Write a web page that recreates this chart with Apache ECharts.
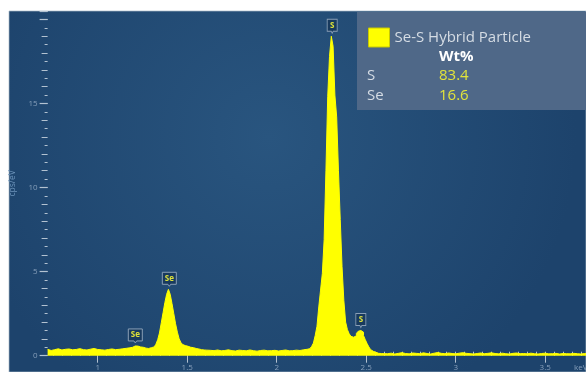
<!DOCTYPE html>
<html>
<head>
<meta charset="utf-8">
<script src="https://cdn.jsdelivr.net/npm/echarts@6/dist/echarts.min.js"></script>
<style>
html,body{margin:0;padding:0;background:#ffffff;}
#chart{width:586px;height:372px;}
</style>
</head>
<body>
<div id="chart"></div>
<script>
// ---- data ----
const seriesName = 'Se-S Hybrid Particle';
// spectrum segments: [start keV, step keV, counts (cps/eV)]
const segAStart = 0.72, segAStep = 0.02;
const segA = [0.38,0.31,0.36,0.41,0.34,0.38,0.40,0.35,0.37,0.42,0.36,0.34,0.39,0.43,0.37,0.35,0.33,0.37,0.40,0.36,0.38,0.41,0.44,0.47];
const segBStart = 1.19, segBStep = 0.01;
const segB = [0.50,0.55,0.58,0.57,0.54,0.52,0.50,0.47,0.45,0.43,0.45,0.48,0.52,0.58,0.68,0.95,1.35,1.95,2.55,3.15,3.65,3.95,3.65,3.10,2.50,1.90,1.40,1.00,0.78,0.66,0.60,0.56,0.53,0.50,0.48,0.45,0.43,0.40,0.38,0.36,0.34,0.33];
const segCStart = 1.62, segCStep = 0.02;
const segC = [0.32,0.30,0.34,0.29,0.31,0.35,0.30,0.28,0.33,0.31,0.29,0.34,0.30,0.27,0.31,0.33,0.29,0.30,0.32,0.28,0.31,0.34,0.29,0.30,0.33,0.31,0.35,0.38,0.42];
const segDStart = 2.19, segDStep = 0.01;
const segD = [0.45,0.55,0.75,1.20,1.75,2.90,3.90,4.90,6.90,11.0,15.4,17.8,19.0,18.4,15.5,14.2,11.0,8.1,5.3,3.3,2.0,1.55,1.30,1.15,1.10,1.18,1.32,1.45,1.50,1.40,1.20,0.95,0.72,0.52,0.36,0.26,0.20,0.16,0.14,0.13,0.12,0.12];
const segEStart = 2.62, segEStep = 0.02;
const segE = [0.12,0.15,0.10,0.14,0.18,0.13,0.11,0.16,0.14,0.12,0.17,0.13,0.10,0.15,0.19,0.14,0.12,0.16,0.13,0.11,0.15,0.18,0.14,0.12,0.10,0.13,0.16,0.12,0.14,0.17,0.13,0.11,0.15,0.12,0.10,0.14,0.16,0.12,0.13,0.11,0.15,0.12,0.10,0.13,0.15,0.11,0.12,0.14,0.10,0.13,0.12,0.11,0.14,0.12,0.10,0.13,0.12];

// peak markers
const peakNames = ['Se','Se','S','S'];
const peakEnergies = [1.21,1.40,2.31,2.47];

// axes
const xMin = 0.72, xMax = 3.728;
const xTickValues = [1,1.5,2,2.5,3,3.5];
const xTickLabels = ['1','1.5','2','2.5','3','3.5'];
const xUnit = 'keV';
const yMin = 0, yMax = 20.5;
const yTickLabels = [0,5,10,15];
const yName = 'cps/eV';

// legend table
const tableHeader = 'Wt%';
const tableElements = ['S','Se'];
const tableWt = ['83.4','16.6'];

// ---- build ----
function seg(start, step, vals){
  return vals.map((v,i)=>[+(start + i*step).toFixed(3), v]);
}
const spectrum = [].concat(
  seg(segAStart,segAStep,segA), seg(segBStart,segBStep,segB),
  seg(segCStart,segCStep,segC), seg(segDStart,segDStep,segD),
  seg(segEStart,segEStep,segE));

function valueAt(e){
  let best = spectrum[0];
  spectrum.forEach(p=>{ if (Math.abs(p[0]-e) < Math.abs(best[0]-e)) best = p; });
  return best[1];
}
const xMinorTicks = [];
for (let k = Math.ceil(xMin/0.05); k*0.05 <= xMax; k++) xMinorTicks.push(+(k*0.05).toFixed(2));

const FONT = 'Open Sans';
const labelColor = '#879fba';
const tickColor = '#b3c2d1';
const tagPath = 'path://M0 0H10V12H6L5 14L4 12H0Z';

const chart = echarts.init(document.getElementById('chart'), null, {renderer:'canvas'});
chart.setOption({
  animation: false,
  backgroundColor: '#ffffff',
  textStyle: {fontFamily: FONT},
  grid: {left: 47.6, right: 0, top: 11, bottom: 16.3, containLabel: false},
  legend: {
    left: 363, top: 22.5, z: 8,
    itemWidth: 21, itemHeight: 19, icon: 'rect', itemGap: 5,
    textStyle: {color: '#d5dce4', fontSize: 15, fontFamily: FONT},
    data: [{name: seriesName, itemStyle: {color: '#ffff00', borderColor: '#c8c800', borderWidth: 1}}],
    selectedMode: false
  },
  xAxis: [
    {type: 'value', min: xMin, max: xMax,
     axisLine: {show: false}, splitLine: {show: false},
     axisTick: {show: true, length: 7, customValues: xTickValues, lineStyle: {color: tickColor, width: 1}},
     axisLabel: {customValues: xTickValues, color: labelColor, fontSize: 8, margin: 8,
       formatter: v => xTickLabels[xTickValues.indexOf(v)] ?? ''}},
    {type: 'value', min: xMin, max: xMax,
     axisLine: {show: false}, splitLine: {show: false},
     axisTick: {show: true, length: 4, customValues: xMinorTicks, lineStyle: {color: tickColor, width: 1}},
     axisLabel: {show: false}}
  ],
  yAxis: [
    {type: 'value', min: yMin, max: yMax, interval: 1, position: 'left',
     name: yName, nameLocation: 'middle', nameGap: 29,
     nameTextStyle: {color: '#6c93ba', fontSize: 8.5, fontFamily: FONT},
     axisLine: {show: false}, splitLine: {show: false},
     axisTick: {show: true, length: 6, lineStyle: {color: tickColor, width: 1}},
     minorTick: {show: true, splitNumber: 2, length: 3, lineStyle: {color: tickColor, width: 1}},
     axisLabel: {color: labelColor, fontSize: 8, margin: 10,
       formatter: v => yTickLabels.indexOf(v) >= 0 ? String(v) : ''}},
    {type: 'value', min: yMin, max: yMax, interval: 5, position: 'left',
     axisLine: {show: false}, splitLine: {show: false},
     axisTick: {show: true, length: 8, lineStyle: {color: tickColor, width: 1.2}},
     axisLabel: {show: false}}
  ],
  graphic: [
    {type: 'rect', z: -10, silent: true,
     shape: {x: 9, y: 11, width: 577, height: 361},
     style: {fill: new echarts.graphic.RadialGradient(0.45, 0.35, 0.85, [
       {offset: 0, color: '#29557f'}, {offset: 1, color: '#1d436c'}]),
       stroke: 'rgba(170,185,200,0.7)', lineWidth: 1}},
    {type: 'rect', z: 5, silent: true,
     shape: {x: 357, y: 12, width: 240, height: 98},
     style: {fill: '#4f6888'}},
    {type: 'text', z: 7, left: 439, top: 49,
     style: {text: tableHeader, fill: '#ffffff', font: 'bold 15px "Open Sans"'}},
    {type: 'text', z: 7, left: 367, top: 68,
     style: {text: tableElements[0], fill: '#d5dce4', font: '15px "Open Sans"'}},
    {type: 'text', z: 7, left: 439, top: 68,
     style: {text: tableWt[0], fill: '#e2e43a', font: '15px "Open Sans"'}},
    {type: 'text', z: 7, left: 367, top: 88.5,
     style: {text: tableElements[1], fill: '#d5dce4', font: '15px "Open Sans"'}},
    {type: 'text', z: 7, left: 439, top: 88.5,
     style: {text: tableWt[1], fill: '#e2e43a', font: '15px "Open Sans"'}},
    {type: 'text', z: 7, left: 574, top: 363.5,
     style: {text: xUnit, fill: labelColor, font: '8px "Open Sans"'}}
  ],
  series: [{
    name: seriesName, type: 'line', step: 'middle',
    xAxisIndex: 0, yAxisIndex: 0,
    data: spectrum, symbol: 'none', z: 2,
    itemStyle: {color: '#ffff00'},
    lineStyle: {color: '#ffff00', width: 1},
    areaStyle: {color: '#ffff00', opacity: 1},
    markPoint: {
      symbol: tagPath, symbolOffset: [0, -10],
      itemStyle: {color: '#183a5e', borderColor: '#8a9fb6', borderWidth: 1},
      label: {show: true, position: 'inside', formatter: '{b}', color: '#dde13a',
        fontSize: 8, fontWeight: 'bold', offset: [0, -1], fontFamily: FONT},
      data: peakNames.map((n, i) => ({
        name: n, coord: [peakEnergies[i], valueAt(peakEnergies[i])],
        symbolSize: [n.length > 1 ? 14 : 10, 14]
      }))
    }
  }]
});
</script>
</body>
</html>
